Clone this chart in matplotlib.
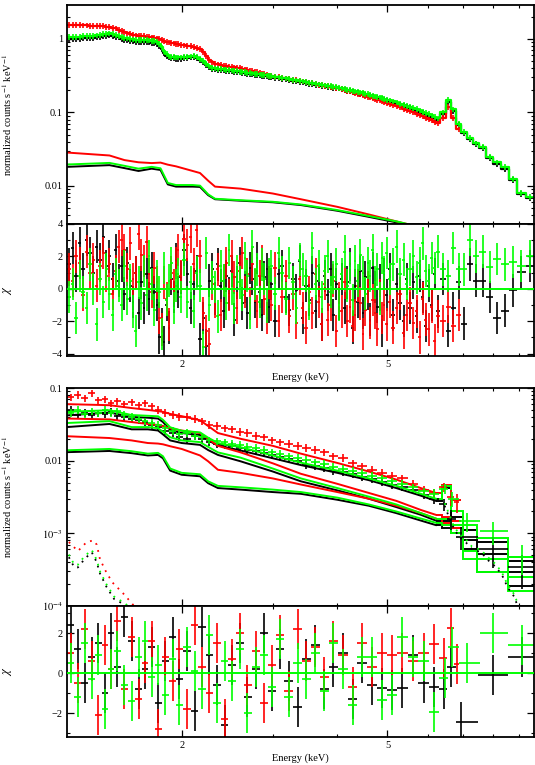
import numpy as np
import matplotlib
matplotlib.use('Agg')
import matplotlib.pyplot as plt
from matplotlib.ticker import FixedLocator, NullFormatter, FuncFormatter, LogLocator

plt.rcParams['font.family'] = ['Liberation Serif', 'DejaVu Serif']
plt.rcParams['mathtext.fontset'] = 'stix'

BLACK, RED, GREEN = 'black', '#ff0000', '#00ff00'

# ---------------- top spectrum (panel 1) ----------------
E_TOP = [1.21, 1.23, 1.25, 1.27, 1.29, 1.31, 1.33, 1.35, 1.37, 1.39,
         1.41, 1.43, 1.45, 1.47, 1.49, 1.51, 1.53, 1.55, 1.57, 1.59,
         1.61, 1.63, 1.65, 1.67, 1.69, 1.71, 1.73, 1.75, 1.77, 1.79,
         1.81, 1.83, 1.85, 1.87, 1.89, 1.91, 1.93, 1.95, 1.97, 1.99,
         2.02, 2.05, 2.08, 2.11, 2.14, 2.17, 2.20, 2.23, 2.26, 2.29,
         2.32, 2.35, 2.38, 2.41, 2.44, 2.47, 2.50, 2.53, 2.56, 2.59,
         2.62, 2.65, 2.68, 2.71, 2.74, 2.77, 2.80, 2.83, 2.86, 2.89,
         2.92, 2.95, 2.98,
         3.03, 3.08, 3.13, 3.18, 3.23, 3.28, 3.33, 3.38, 3.43, 3.48,
         3.53, 3.58, 3.63, 3.68, 3.73, 3.78, 3.83, 3.88, 3.93, 3.98,
         4.03, 4.08, 4.13, 4.18, 4.23, 4.28, 4.33, 4.38, 4.43, 4.48,
         4.53, 4.58, 4.63, 4.68, 4.73, 4.78, 4.83, 4.88, 4.93, 4.98,
         5.05, 5.13, 5.21, 5.29, 5.37, 5.45, 5.53, 5.61, 5.69, 5.77,
         5.85, 5.93, 6.01, 6.09, 6.17, 6.25,
         6.40, 6.55, 6.70, 6.86, 7.03, 7.22, 7.42, 7.64, 7.88, 8.14,
         8.42, 8.73, 9.07, 9.42]

TOP_BLACK = [1.00, 1.01, 0.99, 1.01, 1.02, 1.02, 1.03, 1.04, 1.05, 1.06,
             1.09, 1.11, 1.12, 1.11, 1.08, 1.05, 1.01, 0.98, 0.96, 0.94,
             0.93, 0.92, 0.91, 0.91, 0.92, 0.91, 0.90, 0.89, 0.88, 0.86,
             0.81, 0.73, 0.65, 0.59, 0.56, 0.55, 0.55, 0.54, 0.54, 0.54,
             0.55, 0.555, 0.56, 0.565, 0.55, 0.52, 0.48, 0.44, 0.41, 0.39,
             0.385, 0.38, 0.378, 0.375, 0.37, 0.368, 0.362, 0.358, 0.355, 0.35,
             0.347, 0.342, 0.338, 0.335, 0.33, 0.327, 0.323, 0.32, 0.316, 0.313,
             0.31, 0.306, 0.302,
             0.297, 0.292, 0.287, 0.282, 0.277, 0.27, 0.266, 0.261, 0.256, 0.251,
             0.247, 0.243, 0.239, 0.235, 0.231, 0.227, 0.224, 0.221, 0.218, 0.215,
             0.212, 0.207, 0.203, 0.199, 0.195, 0.191, 0.188, 0.184, 0.181, 0.177,
             0.174, 0.171, 0.168, 0.164, 0.161, 0.158, 0.155, 0.152, 0.148, 0.145,
             0.141, 0.137, 0.132, 0.127, 0.123, 0.119, 0.115, 0.110, 0.106, 0.102,
             0.098, 0.094, 0.090, 0.087, 0.083, 0.080,
             0.095, 0.140, 0.105, 0.068, 0.052, 0.043, 0.037, 0.033, 0.024, 0.020,
             0.017, 0.012, 0.0078, 0.0068]

TOP_GREEN = [1.07, 1.08, 1.06, 1.08, 1.09, 1.09, 1.10, 1.11, 1.12, 1.13,
             1.16, 1.18, 1.19, 1.18, 1.15, 1.11, 1.07, 1.04, 1.02, 1.00,
             0.99, 0.98, 0.97, 0.97, 0.98, 0.97, 0.96, 0.95, 0.94, 0.92,
             0.86, 0.77, 0.68, 0.62, 0.58, 0.57, 0.57, 0.56, 0.56, 0.56,
             0.57, 0.575, 0.58, 0.585, 0.57, 0.54, 0.50, 0.455, 0.425, 0.405,
             0.398, 0.393, 0.39, 0.387, 0.383, 0.38, 0.374, 0.37, 0.366, 0.361,
             0.358, 0.353, 0.349, 0.345, 0.34, 0.337, 0.333, 0.33, 0.326, 0.322,
             0.319, 0.315, 0.311,
             0.306, 0.301, 0.296, 0.291, 0.285, 0.279, 0.274, 0.269, 0.264, 0.259,
             0.255, 0.25, 0.246, 0.242, 0.238, 0.234, 0.231, 0.228, 0.225, 0.222,
             0.218, 0.213, 0.209, 0.205, 0.201, 0.197, 0.194, 0.19, 0.187, 0.183,
             0.18, 0.177, 0.173, 0.17, 0.166, 0.163, 0.16, 0.157, 0.153, 0.15,
             0.146, 0.142, 0.137, 0.132, 0.128, 0.124, 0.12, 0.115, 0.111, 0.107,
             0.103, 0.099, 0.095, 0.091, 0.087, 0.083,
             0.100, 0.150, 0.110, 0.070, 0.054, 0.045, 0.038, 0.034, 0.025, 0.021,
             0.018, 0.0125, 0.0080, 0.0071]

TOP_RED = [1.55, 1.56, 1.54, 1.55, 1.53, 1.53, 1.52, 1.51, 1.50, 1.50,
           1.49, 1.47, 1.46, 1.43, 1.39, 1.34, 1.29, 1.24, 1.19, 1.16,
           1.14, 1.12, 1.11, 1.10, 1.09, 1.07, 1.06, 1.05, 1.03, 1.02,
           1.00, 0.98, 0.95, 0.92, 0.90, 0.88, 0.87, 0.86, 0.85, 0.84,
           0.82, 0.81, 0.80, 0.78, 0.76, 0.73, 0.67, 0.59, 0.52, 0.48,
           0.46, 0.45, 0.44, 0.435, 0.43, 0.42, 0.415, 0.41, 0.405, 0.40,
           0.392, 0.385, 0.378, 0.37, 0.365, 0.36, 0.353, 0.347, 0.34, 0.333,
           0.326, 0.32, 0.315,
           0.308, 0.302, 0.297, 0.291, 0.286, 0.28, 0.275, 0.27, 0.265, 0.259,
           0.254, 0.25, 0.245, 0.24, 0.236, 0.232, 0.228, 0.224, 0.22, 0.216,
           0.212, 0.207, 0.202, 0.197, 0.193, 0.188, 0.184, 0.18, 0.176, 0.172,
           0.168, 0.164, 0.16, 0.157, 0.153, 0.149, 0.146, 0.142, 0.139, 0.136,
           0.132, 0.127, 0.122, 0.117, 0.113, 0.109, 0.105, 0.1, 0.096, 0.093,
           0.089, 0.085, 0.081, 0.078, 0.075, 0.072,
           0.085, 0.120, 0.085, 0.060]

TOP_ERR = 0.09  # fractional error on the bright spectra

# residuals (chi) for the top spectrum
RES_BLACK = [1.5, 2.5, 0.8, 2.8, 1.2, 3.0, 2.2, 1.0, 2.6, 1.8,
             3.2, 1.4, 2.0, 0.6, 2.4, 0.5, 1.4, -0.3, 1.6, 0.2,
             -0.8, 1.0, -1.5, 0.4, -1.2, 0.9, -0.6, 1.3, -0.2, -1.0,
             -3.0, -2.2, -3.3, -1.0, -2.4, 0.6, -0.5, 1.8, -0.2, 0.7,
             2.4, 0.9, -1.2, 0.3, 1.1, -3.1, -1.8, -3.5, 0.5, 1.2,
             -0.6, 1.5, 0.2, -1.4, 0.8, -0.3, 1.1, -1.9, 0.4, 1.6,
             -0.9, 0.1, -1.5, 1.3, 0.6, -0.8, 1.9, -0.2, -1.6, 0.7,
             1.2, -1.1, 0.3,
             -2.0, 0.9, 1.4, -0.5, -1.3, 0.6, -0.1, 1.7, -1.8, 0.2,
             -0.7, 1.0, -1.4, 0.5, -2.2, 0.8, -0.4, 1.2, -1.6, 0.3,
             -0.9, 0.6, -1.2, 0.4, 1.5, -2.4, 0.2, -0.8, 1.1, -1.5,
             0.7, -0.3, -1.9, 1.3, 0.1, -1.1, 0.5, -2.6, 0.9, -0.4,
             1.2, -1.6, 0.3, -0.9, -2.0, 0.6, -1.2, 0.4, -1.7, 0.8,
             -0.5, -2.3, 0.2, -1.0, 0.9, -1.4,
             0.6, -2.6, -1.2, 0.4, -2.15, 1.5, 0.5, 0.5, -0.5, -1.8,
             -1.35, -0.1, 1.05, 1.4]

RES_GREEN = [-0.5, 0.3, -1.8, 0.8, -0.2, -1.2, 1.5, 0.0, -2.2, 0.6,
             -0.8, 1.2, -0.3, -1.6, 0.9, 0.2, -1.0, 1.4, -0.6, 0.5,
             -1.4, -2.6, 0.4, -0.9, 1.1, -0.4, 2.0, 0.3, -1.3, 0.8,
             -0.2, -2.8, 1.3, -0.7, 0.5, 1.6, -1.2, 0.2, 0.9, -0.5,
             1.8, -0.8, 0.4, -1.4, 1.0, 0.2, -3.6, 2.2, -1.0, 0.7,
             0.1, -1.7, 1.4, 0.5, -0.9, 2.4, 0.0, -1.2, 1.1, 0.4,
             -0.4, 1.9, 0.8, -1.5, 2.6, 0.3, 1.2, -0.8, 1.5, 0.6,
             -1.1, 0.9, 1.4,
             -0.3, 2.2, 1.0, -0.6, 1.6, 0.4, -1.2, 1.8, 1.2, 0.8,
             -0.9, 2.5, 0.3, 1.4, -0.5, 1.1, 2.0, -0.2, 0.7, 1.5,
             -1.0, 0.9, 2.3, 0.2, 1.3, -0.7, 1.7, 0.5, 2.1, 1.0,
             -0.3, 1.6, 0.8, 2.4, 0.4, 1.2, -0.6, 1.9, 1.0, 2.2,
             0.6, 1.5, 2.6, 0.9, 1.8, 0.3, 1.2, 2.0, 0.7, 1.6,
             2.8, 1.1, 0.5, 1.9, 1.3, 2.3,
             1.2, 0.8, 2.5, 1.2, 1.2, 3.0, 2.0, 2.3, 1.35, 1.85,
             1.5, 1.65, 1.4, 2.0]

RES_RED = [1.2, 0.5, 2.0, 1.6, -0.4, 2.3, 1.0, 1.8, 0.2, 1.4,
           2.2, 0.8, 1.5, -0.3, 1.1, 2.6, 3.0, 2.4, 1.2, 2.8,
           0.6, 1.0, 3.4, 2.1, 1.7, 2.9, 0.9, -0.2, 1.3, 0.4,
           -1.8, -2.5, 0.4, -0.6, -2.2, 1.0, 0.2, 1.6, 2.4, 0.8,
           3.1, 2.7, 3.2, 1.5, 3.6, 2.0, -1.5, -2.6, -3.4, 0.3,
           -0.8, 1.2, -1.6, 0.5, 1.6, -0.4, 2.0, 0.7, -1.2, 1.1,
           2.2, -0.2, 0.9, -0.9, 1.5, 0.2, -1.4, 0.8, 1.7, -0.6,
           -1.8, 0.4, -1.0,
           1.3, -2.0, -0.5, 0.8, -1.7, -0.3, -2.1, 0.6, -1.2, -2.4,
           -0.2, -1.5, 0.9, -0.8, -2.2, 0.3, -1.9, -1.0, 0.5, -2.6,
           -0.6, -1.4, 0.4, -2.0, -1.1, -2.3, -1.6, 0.2, -0.9, -2.8,
           -1.3, 0.1, -2.1, -0.7, -1.5, -2.5, -0.4, -1.8, -1.0, -2.2,
           -0.8, -2.4, -1.2, -0.3, -2.7, -1.6, -0.9, -2.1, -1.4, -3.0,
           -0.6, -1.9, -2.5, -1.1, -3.2, -1.7,
           -2.0, -1.1, -2.3, -1.6]

# faint model component in the top panel
K1 = [1.2, 1.45, 1.55, 1.65, 1.75, 1.82, 1.88, 1.95, 2.1, 2.17,
      2.25, 2.32, 2.6, 3.0, 3.4, 4.0, 4.6, 5.2, 5.5, 6.0]
LOW_BLACK = [0.0182, 0.0192, 0.0175, 0.0160, 0.0172, 0.0165, 0.0105, 0.0098, 0.0098, 0.0097,
             0.0075, 0.0066, 0.0063, 0.0060, 0.0055, 0.0046, 0.0038, 0.0032, 0.0029, 0.0025]
LOW_GREEN = [0.0196, 0.0206, 0.0188, 0.0172, 0.0182, 0.0174, 0.0110, 0.0103, 0.0103, 0.0101,
             0.0077, 0.0067, 0.0064, 0.0061, 0.0056, 0.0047, 0.0039, 0.0033, 0.0030, 0.0026]
LOW_RED = [0.0285, 0.0260, 0.0225, 0.0210, 0.0205, 0.0208, 0.0195, 0.0185, 0.0160, 0.0150,
           0.0118, 0.0098, 0.0092, 0.0079, 0.0066, 0.0052, 0.0041, 0.0033, 0.0030, 0.0025]

# ---------------- lower spectrum (panel 3) ----------------
E3 = [1.22, 1.26, 1.30, 1.34, 1.38, 1.42, 1.46, 1.50, 1.55, 1.60,
      1.65, 1.70, 1.75, 1.80, 1.86, 1.92, 1.98, 2.05, 2.12, 2.19,
      2.26, 2.34, 2.42, 2.50, 2.59, 2.68, 2.78, 2.88, 2.99, 3.10,
      3.22, 3.35, 3.48, 3.62, 3.77, 3.93, 4.10, 4.28, 4.47, 4.67,
      4.88, 5.10, 5.34, 5.60, 5.88]
E3_TAIL_BLACK = [6.15, 6.42, 6.62, 6.95, 8.0, 9.1]
E3_TAIL_RED = [6.15, 6.42, 6.62, 6.80]
E3_TAIL_GREEN = [6.15, 6.45, 6.65, 7.12, 8.0, 9.1]

SPEC3_BLACK = [0.050, 0.043, 0.046, 0.042, 0.045, 0.044, 0.047, 0.041, 0.040, 0.038,
               0.036, 0.034, 0.031, 0.029, 0.026, 0.024, 0.021, 0.020, 0.022, 0.020,
               0.018, 0.017, 0.0165, 0.016, 0.015, 0.0142, 0.0135, 0.0128, 0.012, 0.0112,
               0.0105, 0.0098, 0.0088, 0.0085, 0.0080, 0.0073, 0.0070, 0.0065, 0.0060, 0.0056,
               0.0051, 0.0047, 0.0043, 0.0039, 0.0034,
               0.0030, 0.0025, 0.0016, 0.0009, 0.00061, 0.00034]
SPEC3_RED = [0.075, 0.080, 0.072, 0.085, 0.068, 0.070, 0.062, 0.066, 0.060, 0.064,
             0.058, 0.062, 0.056, 0.050, 0.046, 0.043, 0.040, 0.040, 0.038, 0.035,
             0.031, 0.030, 0.028, 0.027, 0.025, 0.024, 0.022, 0.021, 0.019, 0.018,
             0.017, 0.016, 0.015, 0.014, 0.013, 0.0115, 0.011, 0.0092, 0.0084, 0.0075,
             0.0068, 0.0062, 0.0057, 0.0048, 0.0040,
             0.0036, 0.0043, 0.0032, 0.0027]
SPEC3_GREEN = [0.046, 0.050, 0.044, 0.048, 0.045, 0.050, 0.046, 0.048, 0.043, 0.040,
               0.037, 0.035, 0.033, 0.031, 0.028, 0.026, 0.023, 0.024, 0.022, 0.021,
               0.019, 0.0185, 0.018, 0.017, 0.0165, 0.0155, 0.015, 0.014, 0.013, 0.0125,
               0.0115, 0.011, 0.0103, 0.0095, 0.009, 0.0083, 0.0078, 0.0072, 0.0068, 0.0062,
               0.0057, 0.0052, 0.0048, 0.0043, 0.0038,
               0.0035, 0.0041, 0.0030, 0.00148, 0.00107, 0.00048]

ERR3 = 0.12
ERR3_TAIL_BLACK = [0.15, 0.18, 0.30, 0.35, 0.45, 0.50]
ERR3_TAIL_RED = [0.15, 0.15, 0.25, 0.30]
ERR3_TAIL_GREEN = [0.15, 0.15, 0.22, 0.30, 0.35, 0.45]

RES3_BLACK = [2.4, 1.2, -0.5, 0.8, 1.5, -1.0, 2.0, 0.3, 2.8, 1.6,
              -0.8, 0.2, 1.3, -1.5, 0.6, 1.8, -0.3, 1.1, -1.9, 2.3,
              0.9, -0.6, -2.6, 0.4, 1.5, -1.2, 0.2, 2.0, -0.9, 1.2,
              -0.4, -1.7, 0.7, 1.4, -0.8, 0.3, 1.0, -1.3, 0.5, -0.6,
              -0.75, -0.85, -0.75, 0.9, -0.5,
              -0.7, -0.8, 0.3, -2.45, -0.1, 0.8]
RES3_RED = [1.0, -0.5, 2.2, 0.6, -2.1, 1.4, 0.2, 2.6, -0.8, 1.8,
            -1.3, 0.5, 1.6, -2.8, 0.8, -0.4, 1.2, -1.8, 2.4, 0.3,
            -1.0, 1.5, -2.3, 0.7, 2.0, -0.6, 1.1, -1.5, 0.4, 1.9,
            -0.9, 2.2, 0.6, 1.3, -0.2, 1.6, 0.9, -0.7, 1.5, 0.3,
            1.0, 0.9, 1.0, 0.6, 1.0,
            1.45, 0.75, 2.25, 0.45]
RES3_GREEN = [0.5, -1.2, 1.5, -0.3, 0.9, -1.8, 0.2, 1.1, -0.6, -1.4,
              0.8, 1.6, -0.2, 0.4, -1.1, 0.7, -1.6, 1.3, 0.1, -0.8,
              1.9, -1.5, 0.6, -0.4, 1.2, -2.0, 0.3, 0.9, -0.7, 1.7,
              -1.2, 0.5, -0.3, 1.0, -0.9, 1.5, 0.2, -1.6, 0.8, 0.8,
              -1.35, -1.1, 1.8, 0.8, 0.6,
              -1.95, -0.25, 1.3, 0.5, 2.0, 1.4]

# model curves of the lower spectrum
K3 = [1.2, 1.45, 1.6, 1.72, 1.8, 1.84, 1.9, 2.0, 2.17, 2.25,
      2.35, 2.6, 3.0, 3.4, 4.0, 4.6, 5.2, 5.8, 6.2]
TOTAL_BLACK = [0.042, 0.046, 0.040, 0.039, 0.038, 0.034, 0.0265, 0.024, 0.0226, 0.019,
               0.0162, 0.0138, 0.0108, 0.0087, 0.0068, 0.0054, 0.0042, 0.0033, 0.0028]
TOTAL_GREEN = [0.047, 0.0495, 0.0425, 0.0415, 0.0408, 0.0365, 0.0288, 0.0258, 0.0245, 0.0207,
               0.0175, 0.0153, 0.0118, 0.0094, 0.0073, 0.0057, 0.0045, 0.0035, 0.0030]
TOTAL_RED = [0.060, 0.058, 0.053, 0.050, 0.048, 0.047, 0.044, 0.041, 0.036, 0.030,
             0.024, 0.020, 0.016, 0.0125, 0.0093, 0.0071, 0.0055, 0.0042, 0.0036]
COMPA_BLACK = [0.029, 0.032, 0.027, 0.027, 0.026, 0.023, 0.019, 0.0175, 0.0165, 0.014,
               0.012, 0.0098, 0.0071, 0.0052, 0.0039, 0.0030, 0.0023, 0.0018, 0.0015]
COMPA_GREEN = [0.033, 0.035, 0.029, 0.029, 0.028, 0.025, 0.021, 0.019, 0.018, 0.0155,
               0.013, 0.011, 0.0078, 0.0057, 0.0042, 0.0032, 0.0025, 0.0019, 0.0016]
COMPA_RED = [0.038, 0.037, 0.034, 0.032, 0.031, 0.030, 0.028, 0.026, 0.024, 0.020,
             0.016, 0.013, 0.0092, 0.0066, 0.0048, 0.0036, 0.0028, 0.0021, 0.0018]
COMPC_BLACK = [0.0131, 0.0136, 0.0127, 0.0118, 0.0120, 0.0108, 0.0073, 0.0064, 0.0061, 0.0049,
               0.0042, 0.0040, 0.0037, 0.0035, 0.0029, 0.0024, 0.0019, 0.0015, 0.0013]
COMPC_GREEN = [0.0139, 0.0145, 0.0135, 0.0125, 0.0128, 0.0115, 0.0078, 0.0068, 0.0065, 0.0052,
               0.0045, 0.0043, 0.0040, 0.0037, 0.0031, 0.0025, 0.0020, 0.0016, 0.0014]
COMPC_RED = [0.0217, 0.0205, 0.0190, 0.0175, 0.0172, 0.0168, 0.0158, 0.0145, 0.0118, 0.0098,
             0.0075, 0.0068, 0.0057, 0.0047, 0.0037, 0.0030, 0.0024, 0.0019, 0.0016]

# wide high-energy model bins
EDGES_HI = [6.2, 6.38, 6.62, 7.0, 7.45, 8.55, 9.6]
HI_TOTAL_BLACK = [0.0028, 0.0042, 0.0017, 0.0011, 0.00075, 0.00041]
HI_COMPA_BLACK = [0.0015, 0.0015, 0.0012, 0.00080, 0.00052, 0.00029]
HI_COMPC_BLACK = [0.0013, 0.0012, 0.0010, 0.00060, 0.00029, 0.00019]
HI_TOTAL_GREEN = [0.0030, 0.0045, 0.0020, 0.0013, 0.00085, 0.00048]
HI_COMPA_GREEN = [0.0016, 0.0016, 0.0013, 0.00057, 0.00045, 0.00025]
HI_COMPC_GREEN = [0.0014, 0.0013, 0.0010, 0.00045, 0.00029, 0.00016]
EDGES_HI_RED = [6.2, 6.38, 6.62, 6.95]
HI_TOTAL_RED = [0.0036, 0.0046, 0.0029]
HI_COMPA_RED = [0.0018, 0.0017, 0.0015]
HI_COMPC_RED = [0.0016, 0.0014, 0.0012]

# dotted components
SOFT_E_RED = [1.21, 1.26, 1.31, 1.35, 1.37, 1.39, 1.43, 1.47, 1.54, 1.60, 1.66]
SOFT_RED = [7.6e-4, 5.7e-4, 7.6e-4, 8.0e-4, 7.0e-4, 4.4e-4, 2.9e-4, 2.1e-4, 1.5e-4, 1.1e-4, 0.8e-4]
SOFT_E_BG = [1.21, 1.24, 1.26, 1.29, 1.32, 1.34, 1.37, 1.39, 1.43, 1.48, 1.55, 1.62]
SOFT_BLACK = [4.7e-4, 3.4e-4, 3.4e-4, 4.2e-4, 5.0e-4, 5.5e-4, 4.0e-4, 2.8e-4, 1.85e-4, 1.25e-4, 1.05e-4, 0.8e-4]
SOFT_GREEN = [5.1e-4, 3.7e-4, 3.7e-4, 4.6e-4, 5.4e-4, 5.9e-4, 4.3e-4, 3.0e-4, 2.0e-4, 1.35e-4, 1.1e-4, 0.85e-4]
FE_E = [6.45, 6.53, 6.69, 6.87, 7.09, 7.28, 7.58, 7.87, 8.12, 8.34, 8.54, 8.82, 8.95]
FE_BLACK = [2.4e-3, 1.9e-3, 1.25e-3, 9.0e-4, 7.5e-4, 6.1e-4, 5.5e-4, 4.1e-4, 3.4e-4, 2.6e-4, 1.8e-4, 1.3e-4, 0.9e-4]
FE_GREEN = [2.6e-3, 2.1e-3, 1.35e-3, 9.8e-4, 8.2e-4, 6.6e-4, 5.9e-4, 4.5e-4, 3.7e-4, 2.8e-4, 1.95e-4, 1.4e-4, 1.0e-4]


def half_widths(e):
    e = np.asarray(e, dtype=float)
    d = np.diff(e) / 2
    return np.vstack([np.concatenate([[d[0]], d]), np.concatenate([d, [d[-1]]])])


def style(ax, ylog=False, show_x=False):
    ax.set_xscale('log')
    ax.set_xlim(1.2, 9.6)
    ax.xaxis.set_major_locator(FixedLocator([2, 5]))
    ax.xaxis.set_minor_locator(FixedLocator([3, 4, 6, 7, 8, 9]))
    ax.xaxis.set_major_formatter(FuncFormatter(lambda v, _: f'{v:g}'))
    ax.xaxis.set_minor_formatter(NullFormatter())
    if ylog:
        ax.set_yscale('log')
        ax.yaxis.set_minor_locator(LogLocator(base=10, subs=np.arange(2, 10)))
        ax.yaxis.set_minor_formatter(NullFormatter())
    ax.tick_params(which='both', direction='in', top=True, right=True,
                   labelsize=7.5, pad=3)
    ax.tick_params(which='major', length=5, width=0.9)
    ax.tick_params(which='minor', length=2.5, width=0.8)
    ax.tick_params(labelbottom=show_x)
    for s in ax.spines.values():
        s.set_linewidth(1.3)


fig = plt.figure(figsize=(5.35, 7.65), dpi=100)
ax1 = fig.add_axes([0.1252, 0.7072, 0.8729, 0.2863])
ax2 = fig.add_axes([0.1252, 0.5346, 0.8729, 0.1726])
ax3 = fig.add_axes([0.1252, 0.2078, 0.8729, 0.2850])
ax4 = fig.add_axes([0.1252, 0.0366, 0.8729, 0.1712])

# panel 1 + 2
for color, spec, res, low in [(BLACK, TOP_BLACK, RES_BLACK, LOW_BLACK),
                              (RED, TOP_RED, RES_RED, LOW_RED),
                              (GREEN, TOP_GREEN, RES_GREEN, LOW_GREEN)]:
    e = E_TOP[:len(spec)]
    hw = half_widths(e)
    spec = np.asarray(spec)
    ax1.errorbar(e, spec, xerr=hw, yerr=spec * TOP_ERR, fmt='none',
                 ecolor=color, elinewidth=1.2, capsize=0)
    ax1.plot(e, spec, color=color, lw=1.6, drawstyle='steps-mid')
    ax1.plot(K1, low, color=color, lw=1.4)
    ax2.errorbar(e, res, xerr=hw, yerr=1.0, fmt='none',
                 ecolor=color, elinewidth=1.2, capsize=0)
ax2.axhline(0, color=GREEN, lw=1.4, zorder=5)

# panel 3 + 4
series3 = [
    (BLACK, E3 + E3_TAIL_BLACK, SPEC3_BLACK, [ERR3] * len(E3) + ERR3_TAIL_BLACK, RES3_BLACK,
     TOTAL_BLACK, COMPA_BLACK, COMPC_BLACK, EDGES_HI,
     [HI_TOTAL_BLACK, HI_COMPA_BLACK, HI_COMPC_BLACK]),
    (RED, E3 + E3_TAIL_RED, SPEC3_RED, [ERR3] * len(E3) + ERR3_TAIL_RED, RES3_RED,
     TOTAL_RED, COMPA_RED, COMPC_RED, EDGES_HI_RED,
     [HI_TOTAL_RED, HI_COMPA_RED, HI_COMPC_RED]),
    (GREEN, E3 + E3_TAIL_GREEN, SPEC3_GREEN, [ERR3] * len(E3) + ERR3_TAIL_GREEN, RES3_GREEN,
     TOTAL_GREEN, COMPA_GREEN, COMPC_GREEN, EDGES_HI,
     [HI_TOTAL_GREEN, HI_COMPA_GREEN, HI_COMPC_GREEN]),
]
for color, e, spec, frac, res, tot, ca, cc, edges, hi in series3:
    hw = half_widths(e)
    spec = np.asarray(spec)
    ax3.errorbar(e, spec, xerr=hw, yerr=spec * np.asarray(frac), fmt='none',
                 ecolor=color, elinewidth=1.2, capsize=0)
    for comp in (tot, ca, cc):
        ax3.plot(K3, comp, color=color, lw=1.4)
    for vals in hi:
        ax3.stairs(vals, edges, color=color, lw=1.4, baseline=None)
    ax4.errorbar(e, res, xerr=hw, yerr=1.0, fmt='none',
                 ecolor=color, elinewidth=1.2, capsize=0)

dot = (0, (1, 3))
ax3.plot(SOFT_E_BG, SOFT_BLACK, color=BLACK, lw=1.3, ls=dot)
ax3.plot(SOFT_E_RED, SOFT_RED, color=RED, lw=1.3, ls=dot)
ax3.plot(SOFT_E_BG, SOFT_GREEN, color=GREEN, lw=1.3, ls=dot)
ax3.plot(FE_E, FE_BLACK, color=BLACK, lw=1.3, ls=dot)
ax3.plot(FE_E, FE_GREEN, color=GREEN, lw=1.3, ls=dot)
ax4.axhline(0, color=GREEN, lw=1.4, zorder=5)

# axes
style(ax1, ylog=True)
ax1.set_ylim(0.00304, 2.9)
ax1.yaxis.set_major_locator(FixedLocator([0.01, 0.1, 1]))
ax1.set_yticklabels(['0.01', '0.1', '1'])

style(ax2, show_x=True)
ax2.set_ylim(-4.15, 4.0)
ax2.yaxis.set_major_locator(FixedLocator([-4, -2, 0, 2, 4]))
ax2.yaxis.set_minor_locator(FixedLocator([-3, -1, 1, 3]))

style(ax3, ylog=True)
ax3.set_ylim(1e-4, 0.1)
ax3.yaxis.set_major_locator(FixedLocator([1e-4, 1e-3, 0.01, 0.1]))
ax3.set_yticklabels([r'$10^{-4}$', r'$10^{-3}$', '0.01', '0.1'])

style(ax4, show_x=True)
ax4.set_ylim(-3.2, 3.35)
ax4.yaxis.set_major_locator(FixedLocator([-2, 0, 2]))
ax4.yaxis.set_minor_locator(FixedLocator([-3, -1, 1, 3]))

for ax in (ax1, ax3):
    ax.set_ylabel(r'normalized counts s$^{-1}$ keV$^{-1}$', fontsize=7.5)
    ax.yaxis.set_label_coords(-0.113, 0.5)
for ax in (ax2, ax4):
    ax.set_ylabel(r'$\chi$', fontsize=9)
    ax.yaxis.set_label_coords(-0.113, 0.5)
    ax.set_xlabel('Energy (keV)', fontsize=7.5, labelpad=2)

fig.savefig('out.png', dpi=100)
